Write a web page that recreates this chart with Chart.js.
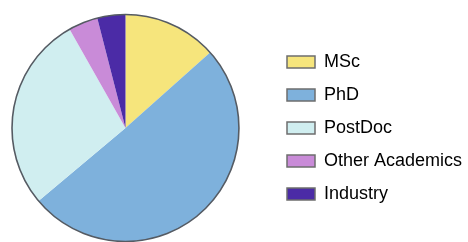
<!DOCTYPE html>
<html>
<head>
<meta charset="utf-8">
<script src="https://cdn.jsdelivr.net/npm/chart.js@4.4.1/dist/chart.umd.min.js"></script>
<style>
  html, body { margin: 0; padding: 0; background: #ffffff; }
  #wrap { width: 468px; height: 242px; position: relative; }
</style>
</head>
<body>
<div id="wrap"><canvas id="c" width="468" height="242"></canvas></div>
<script>
const categories = ["MSc", "PhD", "PostDoc", "Other Academics", "Industry"];
const shares = [13.4, 50.5, 27.9, 4.2, 4.0];
const sliceColors = ["#f6e57c", "#7eb1dc", "#d0eef0", "#c98bd8", "#4b2ba6"];
const outlineColor = "#555b63";
const legendLeft = 272;

const outlinePlugin = {
  id: "outline",
  afterDatasetsDraw(chart) {
    const arc = chart.getDatasetMeta(0).data[0];
    if (!arc) return;
    const ctx = chart.ctx;
    ctx.save();
    ctx.beginPath();
    ctx.arc(arc.x, arc.y, arc.outerRadius, 0, Math.PI * 2);
    ctx.lineWidth = 1.6;
    ctx.strokeStyle = outlineColor;
    ctx.stroke();
    ctx.restore();
  }
};

const legendShift = {
  id: "legendShift",
  afterLayout(chart) {
    const lg = chart.legend;
    if (!lg) return;
    const dx = legendLeft - lg.left;
    lg.left += dx;
    lg.right += dx;
  }
};

new Chart(document.getElementById("c"), {
  type: "pie",
  data: {
    labels: categories,
    datasets: [{
      data: shares,
      backgroundColor: sliceColors,
      borderWidth: 0
    }]
  },
  options: {
    responsive: false,
    animation: false,
    events: [],
    layout: { padding: { top: 14, bottom: 0, left: 12, right: 29 } },
    plugins: {
      tooltip: { enabled: false },
      legend: {
        position: "right",
        labels: {
          font: { family: "'Liberation Sans', Arial, sans-serif", size: 18 },
          color: "#222222",
          boxWidth: 28,
          boxHeight: 12,
          padding: 15,
          generateLabels(chart) {
            return categories.map((label, i) => ({
              text: label,
              fillStyle: sliceColors[i],
              strokeStyle: "#6e6e6e",
              lineWidth: 1.5,
              hidden: false,
              index: i
            }));
          }
        }
      }
    }
  },
  plugins: [outlinePlugin, legendShift]
});
</script>
</body>
</html>
